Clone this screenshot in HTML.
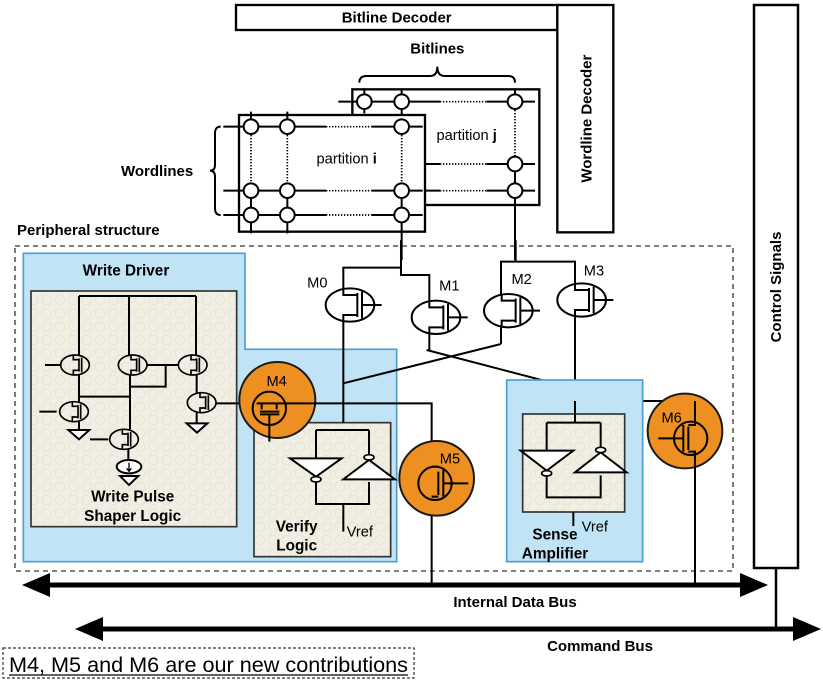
<!DOCTYPE html>
<html><head><meta charset="utf-8"><style>
html,body{margin:0;padding:0;background:#fff}
svg{display:block}
text{font-family:"Liberation Sans",sans-serif}
</style></head><body>
<svg width="823" height="680" viewBox="0 0 823 680" xmlns="http://www.w3.org/2000/svg">
<defs>
<symbol id="nm" overflow="visible">
<ellipse cx="0" cy="0" rx="73" ry="50" fill="#fff" stroke="#000" stroke-width="6"/>
<path d="M-20,-50 V-30 H22 M22,-36 V36 M36,-40 V40 M36,0 H95 M-20,50 V30 H22" fill="none" stroke="#000" stroke-width="6"/>
</symbol>
<symbol id="sm" overflow="visible">
<ellipse cx="0" cy="0" rx="43" ry="30" fill="none" stroke="#000" stroke-width="5"/>
<path d="M-5,-32 V-16 H12 M12,-20 V20 M20,-22 V22 M-5,32 V16 H12" fill="none" stroke="#000" stroke-width="5"/>
</symbol>
<pattern id="tx" width="40" height="40" patternUnits="userSpaceOnUse">
<rect width="40" height="40" fill="#f1eee3"/>
<circle cx="20" cy="20" r="14" fill="none" stroke="#e6e1d2" stroke-width="2"/>
<circle cx="0" cy="0" r="14" fill="none" stroke="#e6e1d2" stroke-width="2"/>
<circle cx="40" cy="40" r="14" fill="none" stroke="#e6e1d2" stroke-width="2"/>
</pattern>
</defs>

<rect x="15" y="246" width="718" height="325" fill="none" stroke="#333" stroke-width="1.3" stroke-dasharray="5,4"/>
<text x="17" y="235" font-size="15" font-weight="bold">Peripheral structure</text>
<text x="121" y="176" font-size="15" font-weight="bold">Wordlines</text>
<rect x="754" y="5" width="44" height="563" fill="#fff" stroke="#000" stroke-width="2.5"/>
<text transform="translate(781,287) rotate(-90)" text-anchor="middle" font-size="15" font-weight="bold">Control Signals</text>
<line x1="776" y1="568" x2="776" y2="630" stroke="#000" stroke-width="2.5"/>

<line x1="40" y1="585" x2="750" y2="585" stroke="#000" stroke-width="5"/>
<polygon points="22,585 50,573 50,597" fill="#000"/>
<polygon points="768,585 740,573 740,597" fill="#000"/>
<text x="515" y="607" text-anchor="middle" font-size="15" font-weight="bold">Internal Data Bus</text>
<line x1="95" y1="629" x2="805" y2="629" stroke="#000" stroke-width="5"/>
<polygon points="75,629 103,617 103,641" fill="#000"/>
<polygon points="821,629 793,617 793,641" fill="#000"/>
<text x="600" y="651" text-anchor="middle" font-size="15" font-weight="bold">Command Bus</text>
<rect x="3" y="648" width="411" height="30" fill="none" stroke="#333" stroke-width="1.2" stroke-dasharray="3,2"/>
<text x="9" y="672" font-size="21" textLength="399" lengthAdjust="spacingAndGlyphs">M4, M5 and M6 are our new contributions</text>
<line x1="9" y1="675" x2="408" y2="675" stroke="#000" stroke-width="1.3"/>

<g transform="translate(200,0) scale(0.33333)" stroke="#000" fill="none">
<rect x="108" y="15" width="964" height="75" stroke-width="7" fill="#fff"/>
<text x="590" y="68" text-anchor="middle" font-size="45" font-weight="bold" fill="#000" stroke="none">Bitline Decoder</text>
<rect x="1072" y="15" width="168" height="682" stroke-width="7" fill="#fff"/>
<text transform="translate(1175,356) rotate(-90)" text-anchor="middle" font-size="45" font-weight="bold" fill="#000" stroke="none">Wordline Decoder</text>
<rect x="457" y="268" width="561" height="347" stroke-width="7" fill="#fff"/>
<path d="M415,305 H720 M860,305 H1005 M678,492 H720 M860,492 H1005 M678,572 H720 M860,572 H1005" stroke-width="6"/>
<path d="M720,305 H860 M720,492 H860 M720,572 H860 M945,330 V465" stroke-width="5" stroke-dasharray="4,5"/>
<path d="M493,265 V340 M605,265 V345 M945,265 V330 M945,465 V780 M605,660 V780" stroke-width="6"/>
<circle cx="493" cy="305" r="22" fill="#fff" stroke-width="6"/>
<circle cx="605" cy="305" r="22" fill="#fff" stroke-width="6"/>
<circle cx="945" cy="305" r="22" fill="#fff" stroke-width="6"/>
<circle cx="945" cy="492" r="22" fill="#fff" stroke-width="6"/>
<circle cx="945" cy="572" r="22" fill="#fff" stroke-width="6"/>
<text x="800" y="420" text-anchor="middle" font-size="44" fill="#000" stroke="none">partition <tspan font-weight="bold">j</tspan></text>
<path d="M478,248 Q478,228 500,228 H690 Q712,228 712,200 Q712,228 734,228 H925 Q945,228 945,248" stroke-width="6"/>
<text x="712" y="160" text-anchor="middle" font-size="45" font-weight="bold" fill="#000" stroke="none">Bitlines</text>
<rect x="117" y="345" width="558" height="350" stroke-width="7" fill="#fff"/>
<path d="M70,380 H378 M515,380 H668 M70,572 H378 M515,572 H668 M70,645 H378 M515,645 H668" stroke-width="6"/>
<path d="M378,380 H515 M378,572 H515 M378,645 H515 M153,405 V548 M262,405 V548 M605,405 V548" stroke-width="5" stroke-dasharray="4,5"/>
<path d="M153,335 V405 M262,335 V405 M605,355 V405 M153,548 V700 M262,548 V700 M605,548 V700" stroke-width="6"/>
<g fill="#fff" stroke-width="6">
<circle cx="153" cy="380" r="22"/><circle cx="262" cy="380" r="22"/><circle cx="605" cy="380" r="22"/>
<circle cx="153" cy="572" r="22"/><circle cx="262" cy="572" r="22"/><circle cx="605" cy="572" r="22"/>
<circle cx="153" cy="645" r="22"/><circle cx="262" cy="645" r="22"/><circle cx="605" cy="645" r="22"/>
</g>
<text x="440" y="490" text-anchor="middle" font-size="44" fill="#000" stroke="none">partition <tspan font-weight="bold">i</tspan></text>
<path d="M62,380 Q45,380 45,400 V495 Q45,512 30,512 Q45,512 45,530 V625 Q45,645 62,645" stroke-width="6"/>
</g>

<g transform="translate(0,240) scale(0.33333)" stroke="#000" fill="none">
<polygon points="70,40 735,40 735,328 1190,328 1190,965 70,965" fill="#c0e3f6" stroke="#4a9fd5" stroke-width="5"/>
<text x="378" y="107" text-anchor="middle" font-size="46" font-weight="bold" fill="#000" stroke="none">Write Driver</text>
<rect x="93" y="153" width="617" height="707" fill="url(#tx)" stroke="#333" stroke-width="5"/>
<path d="M237,168 H588 M237,168 V345 M387,168 V345 M588,168 V345 M237,405 V485 M237,470 H390 M390,405 V568 M440,375 H535 M497,375 V440 H390 M590,405 V458 M590,518 V550 M237,545 V570 M385,628 V660 M135,375 H185 M118,515 H170 M270,598 H325 M648,490 H770" stroke-width="6"/>
<use href="#sm" x="225" y="375"/>
<use href="#sm" x="398" y="375"/>
<use href="#sm" x="578" y="375"/>
<use href="#sm" x="222" y="515"/>
<use href="#sm" x="372" y="598"/>
<use href="#sm" x="605" y="488"/>
<polygon points="205,570 268,570 237,598" fill="#fff" stroke-width="6"/>
<polygon points="560,550 622,550 591,578" fill="#fff" stroke-width="6"/>
<ellipse cx="387" cy="680" rx="37" ry="20" fill="#fff" stroke-width="6"/>
<path d="M387,668 V692 M380,685 L387,694 L394,685" stroke-width="4"/>
<polygon points="360,708 415,708 387,735" fill="#fff" stroke-width="6"/>
<text x="398" y="784" text-anchor="middle" font-size="46" font-weight="bold" fill="#000" stroke="none">Write Pulse</text>
<text x="398" y="843" text-anchor="middle" font-size="46" font-weight="bold" fill="#000" stroke="none">Shaper Logic</text>
<rect x="762" y="548" width="410" height="402" fill="url(#tx)" stroke="#333" stroke-width="5"/>
<path d="M948,570 H1107 M948,570 V655 M1107,570 V645 M948,726 V792 H1107 V726 M1030,792 V875" stroke-width="6"/>
<polygon points="870,655 1025,655 948,710" fill="#fff" stroke-width="6"/>
<ellipse cx="948" cy="718" rx="15" ry="8" fill="#fff" stroke-width="5"/>
<polygon points="1030,718 1185,718 1107,660" fill="#fff" stroke-width="6"/>
<ellipse cx="1107" cy="652" rx="15" ry="8" fill="#fff" stroke-width="5"/>
<text x="1040" y="890" font-size="44" fill="#000" stroke="none">Vref</text>
<text x="890" y="874" text-anchor="middle" font-size="46" font-weight="bold" fill="#000" stroke="none">Verify</text>
<text x="890" y="932" text-anchor="middle" font-size="46" font-weight="bold" fill="#000" stroke="none">Logic</text>
<circle cx="832" cy="480" r="114" fill="#ee8f22" stroke="#1a1a1a" stroke-width="6"/>
<text x="830" y="438" text-anchor="middle" font-size="44" fill="#000" stroke="none">M4</text>
<circle cx="808" cy="505" r="50" fill="none" stroke-width="6"/>
<path d="M770,490 H945 M785,490 V508 M830,490 V508 M780,515 H838 M780,523 H838 M808,523 V605" stroke-width="6"/>
</g>

<g transform="translate(280,240) scale(0.33333)" stroke="#000" fill="none">
<path d="M363,0 V83 H190 V145 M363,83 V105 H448 V182 M707,0 V65 H663 V162 M707,65 H885 V130 M190,245 V548 M448,282 V330 M663,262 V312 M885,230 V548 M440,330 L880,445 M663,312 L190,430 M105,490 H455 V1035 M885,483 H1245 V1035" stroke-width="6"/>
<use href="#nm" x="210" y="195"/>
<use href="#nm" x="468" y="232"/>
<use href="#nm" x="685" y="212"/>
<use href="#nm" x="905" y="180"/>
<text x="112" y="142" text-anchor="middle" font-size="44" fill="#000" stroke="none">M0</text>
<text x="508" y="152" text-anchor="middle" font-size="44" fill="#000" stroke="none">M1</text>
<text x="725" y="132" text-anchor="middle" font-size="44" fill="#000" stroke="none">M2</text>
<text x="942" y="107" text-anchor="middle" font-size="44" fill="#000" stroke="none">M3</text>
<circle cx="470" cy="715" r="112" fill="#ee8f22" stroke="#1a1a1a" stroke-width="6"/>
<text x="510" y="670" text-anchor="middle" font-size="44" fill="#000" stroke="none">M5</text>
<circle cx="465" cy="730" r="50" fill="none" stroke-width="6"/>
<path d="M455,680 H475 M455,770 H475 M475,695 V765 M490,690 V770 M490,730 H565" stroke-width="6"/>
<rect x="680" y="420" width="408" height="545" fill="#c0e3f6" stroke="#4a9fd5" stroke-width="5"/>
<rect x="728" y="522" width="306" height="294" fill="url(#tx)" stroke="#333" stroke-width="5"/>
<path d="M885,483 V548 M800,548 H962 M800,548 V632 M962,548 V622 M800,708 V772 H962 V706 M880,816 V858" stroke-width="6"/>
<polygon points="722,632 880,632 800,692" fill="#fff" stroke-width="6"/>
<ellipse cx="800" cy="700" rx="15" ry="8" fill="#fff" stroke-width="5"/>
<polygon points="885,697 1040,697 962,637" fill="#fff" stroke-width="6"/>
<ellipse cx="962" cy="630" rx="15" ry="8" fill="#fff" stroke-width="5"/>
<text x="905" y="874" font-size="44" fill="#000" stroke="none">Vref</text>
<text x="825" y="899" text-anchor="middle" font-size="46" font-weight="bold" fill="#000" stroke="none">Sense</text>
<text x="825" y="956" text-anchor="middle" font-size="46" font-weight="bold" fill="#000" stroke="none">Amplifier</text>
<circle cx="1215" cy="573" r="112" fill="#ee8f22" stroke="#1a1a1a" stroke-width="6"/>
<text x="1175" y="547" text-anchor="middle" font-size="44" fill="#000" stroke="none">M6</text>
<circle cx="1232" cy="595" r="50" fill="none" stroke-width="6"/>
<path d="M1245,483 V555 H1225 M1245,1035 V635 H1225 M1225,560 V630 M1210,555 V635 M1135,595 H1210" stroke-width="6"/>
</g>
</svg>
</body></html>
